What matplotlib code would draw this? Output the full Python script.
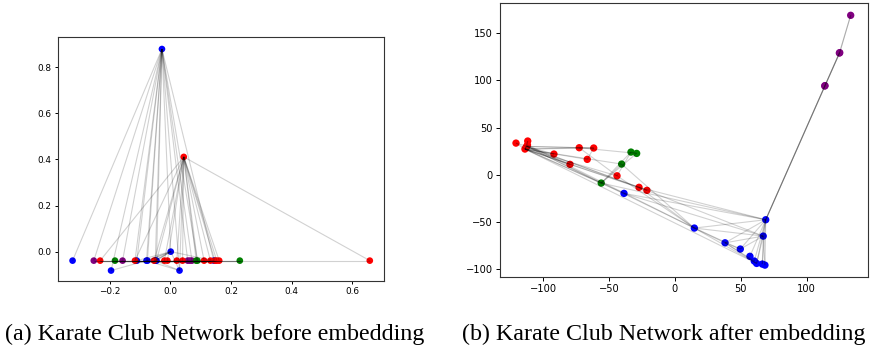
import matplotlib
matplotlib.use("Agg")
import matplotlib.pyplot as plt
from matplotlib.collections import LineCollection

# Zachary karate club edges
edges = [(0, 1), (0, 2), (0, 3), (0, 4), (0, 5), (0, 6), (0, 7), (0, 8), (0, 10), (0, 11),
         (0, 12), (0, 13), (0, 17), (0, 19), (0, 21), (0, 31),
         (1, 2), (1, 3), (1, 7), (1, 13), (1, 17), (1, 19), (1, 21), (1, 30),
         (2, 3), (2, 7), (2, 8), (2, 9), (2, 13), (2, 27), (2, 28), (2, 32),
         (3, 7), (3, 12), (3, 13), (4, 6), (4, 10), (5, 6), (5, 10), (5, 16), (6, 16),
         (8, 30), (8, 32), (8, 33), (9, 33), (13, 33), (14, 32), (14, 33), (15, 32), (15, 33),
         (18, 32), (18, 33), (19, 33), (20, 32), (20, 33), (22, 32), (22, 33),
         (23, 25), (23, 27), (23, 29), (23, 32), (23, 33), (24, 25), (24, 27), (24, 31),
         (25, 31), (26, 29), (26, 33), (27, 33), (28, 31), (28, 33), (29, 32), (29, 33),
         (30, 32), (30, 33), (31, 32), (31, 33), (32, 33)]

# community of each node 0..33
community = ['blue', 'blue', 'blue', 'blue', 'purple', 'purple', 'purple', 'blue', 'red', 'red',
             'purple', 'blue', 'blue', 'blue', 'red', 'red', 'purple', 'blue', 'red', 'blue',
             'red', 'blue', 'red', 'red', 'green', 'green', 'red', 'red', 'green', 'red',
             'red', 'green', 'red', 'red']

# positions before embedding
before_x = [-0.028, 0.001, -0.050, -0.079, -0.253, 0.057, 0.071, -0.111, -0.117, 0.658,
            -0.158, -0.323, -0.196, 0.030, 0.161, 0.153, 0.064, 0.143, 0.111, -0.046,
            0.040, -0.076, 0.021, -0.020, 0.229, -0.183, -0.010, -0.232, 0.085, 0.147,
            -0.054, 0.089, 0.132, 0.044]
before_y = [0.879, 0.000, -0.039, -0.039, -0.039, -0.039, -0.039, -0.039, -0.039, -0.039,
            -0.039, -0.039, -0.082, -0.082, -0.039, -0.039, -0.039, -0.039, -0.039, -0.039,
            -0.039, -0.039, -0.039, -0.039, -0.039, -0.039, -0.039, -0.039, -0.039, -0.039,
            -0.039, -0.039, -0.039, 0.411]

# positions after embedding
after_x = [68.9, 67.0, 14.7, 38.0, 113.7, 124.8, 125.1, 49.6, -27.3, -112.0,
           113.9, 56.9, 60.2, 62.0, -111.8, -120.7, 133.4, 66.3, -113.0, -38.7,
           -91.9, 68.3, -79.7, -72.7, -33.4, -29.1, -66.6, -44.0, -40.5, -61.7,
           -21.3, -56.0, -112.5, -113.9]
after_y = [-47.6, -64.9, -56.4, -72.0, 93.9, 128.8, 129.2, -78.6, -13.3, 31.5,
           94.3, -86.3, -91.3, -93.8, 35.7, 33.5, 168.7, -94.5, 29.0, -19.7,
           21.9, -95.6, 11.0, 28.6, 24.0, 22.6, 16.3, -1.1, 11.3, 28.3,
           -16.5, -8.8, 30.0, 27.2]


def draw_graph(ax, xs, ys, size):
    ax.scatter(xs, ys, s=size, c=community, zorder=2, linewidths=0)
    segs = [[(xs[a], ys[a]), (xs[b], ys[b])] for a, b in edges]
    ax.add_collection(LineCollection(segs, colors='k', alpha=0.18, linewidths=0.8, zorder=3))


fig = plt.figure(figsize=(8.8, 3.52), dpi=100)

ax1 = fig.add_axes([0.0656, 0.2026, 0.3708, 0.6915])
draw_graph(ax1, before_x, before_y, 23)
ax1.set_xlim(-0.372, 0.705)
ax1.set_ylim(-0.126, 0.930)
ax1.set_xticks([-0.2, 0.0, 0.2, 0.4, 0.6])
ax1.set_yticks([0.0, 0.2, 0.4, 0.6, 0.8])
ax1.tick_params(labelsize=6.4, length=2.5, width=0.7, pad=2)

ax2 = fig.add_axes([0.5678, 0.2122, 0.4182, 0.780])
draw_graph(ax2, after_x, after_y, 28)
ax2.set_xlim(-133.1, 146.3)
ax2.set_ylim(-108.5, 182)
ax2.set_xticks([-100, -50, 0, 50, 100])
ax2.set_yticks([-100, -50, 0, 50, 100, 150])
ax2.tick_params(labelsize=7.1, length=3, width=0.7, pad=2)

for ax in (ax1, ax2):
    for sp in ax.spines.values():
        sp.set_linewidth(0.8)
        sp.set_color('#333333')

fig.text(214.5 / 880, 1 - 334 / 352, '(a) Karate Club Network before embedding',
         family='Liberation Serif', fontsize=17.3, ha='center', va='center')
fig.text(663.5 / 880, 1 - 334 / 352, '(b) Karate Club Network after embedding',
         family='Liberation Serif', fontsize=17.3, ha='center', va='center')

fig.savefig('out.png', dpi=100)
